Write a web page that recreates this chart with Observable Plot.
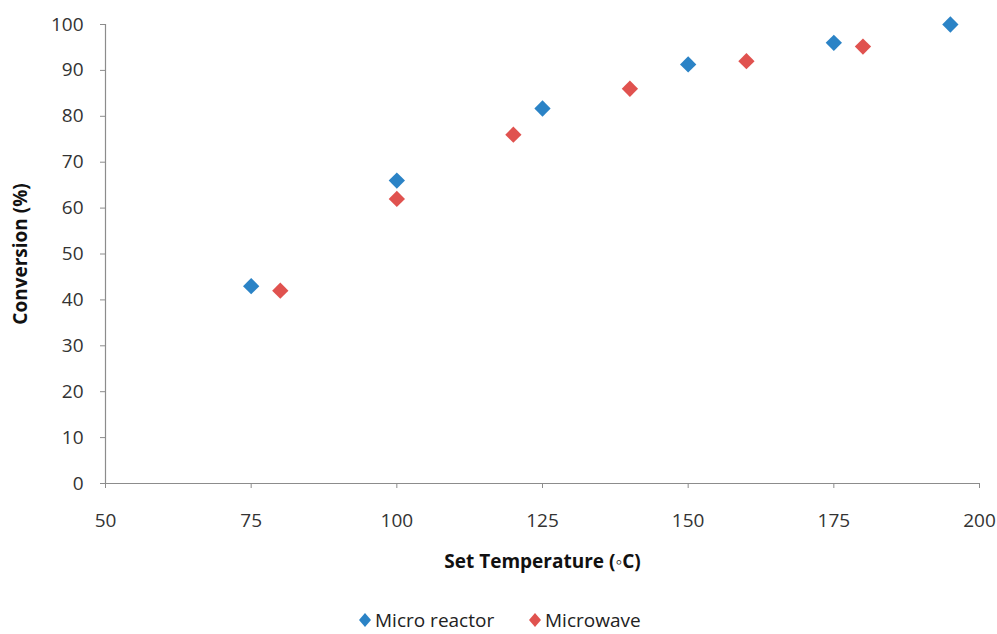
<!DOCTYPE html>
<html>
<head>
<meta charset="utf-8">
<script src="https://cdn.jsdelivr.net/npm/d3@7"></script>
<script src="https://cdn.jsdelivr.net/npm/@observablehq/plot@0.6"></script>
<style>
  body { margin: 0; background: #fff; font-family: "Open Sans", sans-serif; }
  #chart { height: 600px; }
  #legend { position: relative; height: 34px; font-size: 19px; line-height: 18px; color: #222; }
  #legend .item { position: absolute; top: 11px; height: 18px; display: flex; align-items: center; }
  #legend svg { margin-right: 3px; }
</style>
</head>
<body>
<div id="chart"></div>
<div id="legend"></div>
<script>
const seriesNames = ["Micro reactor", "Microwave"];
const seriesColors = ["#2b83c6", "#e0524f"];
const microTemp = [75, 100, 125, 150, 175, 195];
const microConv = [43, 66, 81.7, 91.3, 96, 100];
const waveTemp = [80, 100, 120, 140, 160, 180];
const waveConv = [42, 62, 76, 86, 92, 95.2];
const xTicks = [50, 75, 100, 125, 150, 175, 200];
const yTicks = [0, 10, 20, 30, 40, 50, 60, 70, 80, 90, 100];
const xLabel = "Set Temperature (\u25E6C)";
const yLabel = "Conversion (%)";

const data = [
  ...microTemp.map((t, i) => ({series: seriesNames[0], temp: t, conv: microConv[i]})),
  ...waveTemp.map((t, i) => ({series: seriesNames[1], temp: t, conv: waveConv[i]}))
];

const chart = Plot.plot({
  width: 997,
  height: 600,
  marginTop: 24,
  marginBottom: 117,
  marginLeft: 105,
  marginRight: 18,
  style: {fontFamily: "Open Sans, sans-serif", fontSize: "19px", color: "#333", background: "#fff", display: "block"},
  x: {domain: [50, 200]},
  y: {domain: [0, 100]},
  color: {domain: seriesNames, range: seriesColors},
  marks: [
    Plot.axisX({ticks: xTicks, tickSize: 5, tickPadding: 25, label: null, stroke: "#8c8c8c", fill: "#333", fontSize: 19}),
    Plot.axisY({ticks: yTicks, tickSize: 5, tickPadding: 17, label: null, stroke: "#8c8c8c", fill: "#333", fontSize: 19}),
    Plot.ruleY([0], {stroke: "#8c8c8c", strokeWidth: 1.2}),
    Plot.ruleX([50], {stroke: "#8c8c8c", strokeWidth: 1.2}),
    Plot.dot(data, {x: "temp", y: "conv", fill: "series", symbol: "square", rotate: 45, r: 6.5, stroke: "none"}),
    Plot.text([xLabel], {frameAnchor: "bottom", dy: 84, fontWeight: "bold", fontSize: 19, fill: "#111"}),
    Plot.text([yLabel], {frameAnchor: "left", textAnchor: "middle", dx: -85, rotate: -90, fontWeight: "bold", fontSize: 19, fill: "#111"})
  ]
});
document.getElementById("chart").appendChild(chart);

const legend = document.getElementById("legend");
const lefts = [358, 528];
seriesNames.forEach((name, i) => {
  const item = document.createElement("div");
  item.className = "item";
  item.style.left = lefts[i] + "px";
  item.innerHTML = `<svg width="14" height="16" viewBox="-7 -8 14 16"><path d="M0,-7L6,0L0,7L-6,0Z" fill="${seriesColors[i]}"/></svg><span>${name}</span>`;
  legend.appendChild(item);
});
</script>
</body>
</html>
